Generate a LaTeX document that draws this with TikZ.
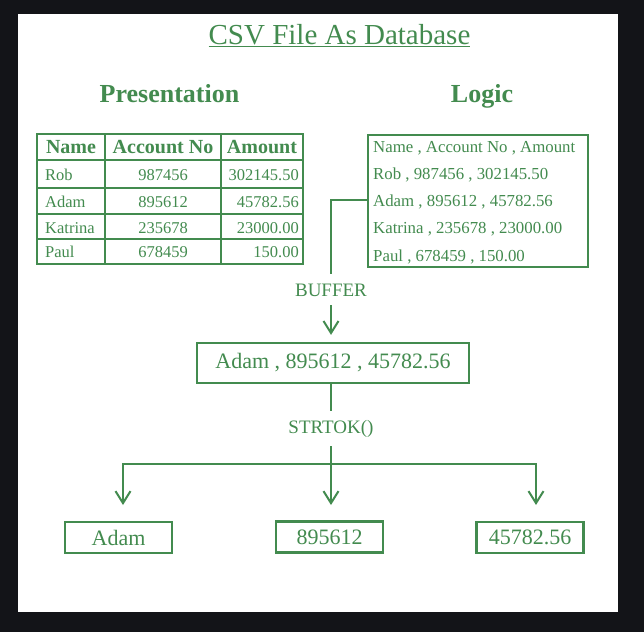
\documentclass[tikz,border=0pt]{standalone}
\usepackage{fontspec}
\setmainfont{Liberation Serif}
\usetikzlibrary{arrows.meta,positioning}
\definecolor{csvgreen}{RGB}{67,139,79}
\definecolor{darkbg}{RGB}{19,20,24}
\newcommand\fsz[1]{\fontsize{#1}{#1}\selectfont}

\begin{document}
\begin{tikzpicture}[x=1pt,y=-1pt,
  every node/.style={text=csvgreen,inner sep=0pt},
  frame/.style={draw=csvgreen,line width=2.2pt},
  grid/.style={draw=csvgreen,line width=2.5pt},
  wire/.style={draw=csvgreen,line width=2pt},
  flow/.style={wire,-{Straight Barb[length=12pt,width=15pt]}},
  lbl/.style={font=\fsz{19},inner ysep=9pt,anchor=base},
  leaf/.style={frame,font=\fsz{22},minimum width=107pt,minimum height=31pt}]

\fill[darkbg] (0,0) rectangle (644,632);
\fill[white] (18,14) rectangle (618,612);

\node[anchor=base,font=\fsz{29}] (title) at (339.5,44) {\underline{CSV File As Database}};
\node[anchor=base,font=\fsz{26}\bfseries] (pres) at (169.5,102) {Presentation};
\node[anchor=base,font=\fsz{26}\bfseries] (logic) at (482,102) {Logic};

\draw[grid] (37,134) rectangle (303,264);
\foreach \x in {105,221} \draw[grid] (\x,134) -- (\x,264);
\foreach \y in {160,188,214,239} \draw[grid] (37,\y) -- (303,\y);

\node[anchor=base,font=\fsz{20}\bfseries] (hname) at (71,153) {Name};
\node[anchor=base,font=\fsz{20}\bfseries] (hacc) at (163,153) {Account No};
\node[anchor=base,font=\fsz{20}\bfseries] (hamt) at (262,153) {Amount};

\foreach \nm/\acc/\amt/\y [count=\i] in {Rob/987456/302145.50/180,Adam/895612/45782.56/207,Katrina/235678/23000.00/233,Paul/678459/150.00/257}{
  \node[anchor=base west,font=\fsz{16.5}] (nm\i) at (45,\y) {\nm};
  \node[anchor=base,font=\fsz{16.5}] (acc\i) at (163,\y) {\acc};
  \node[anchor=base east,font=\fsz{16.5}] (amt\i) at (299,\y) {\amt};
}

\node[frame,anchor=north west,minimum width=220pt,minimum height=132pt] (logicbox) at (367,134) {};
\foreach \t [count=\i] in {{Name , Account No , Amount},{Rob , 987456 , 302145.50},{Adam , 895612 , 45782.56},{Katrina , 235678 , 23000.00},{Paul , 678459 , 150.00}}
  \node[anchor=base west,font=\fsz{16.8}] (line\i) at (373,152+27.3*\i-27.3) {\t};

\coordinate (tap) at (logicbox.west |- 0,200);
\node[lbl] (buffer) at (331,296) {BUFFER};
\draw[wire] (tap) -| (buffer.north);

\node[frame,font=\fsz{22},minimum width=272pt,minimum height=40pt] (record) at (333,363) {Adam , 895612 , 45782.56};
\draw[flow,shorten >=7pt] (buffer.south) -- (buffer.south |- record.north);

\node[lbl] (strtok) at (331,433) {STRTOK()};
\draw[wire] (record.south -| strtok) -- (strtok.north);

\coordinate (split) at (331,464);
\coordinate (tipA) at (123,505);
\coordinate (tipB) at (331,505);
\coordinate (tipC) at (536,505);
\draw[wire] (strtok.south) -- (split);
\draw[flow] (split) -| (tipA);
\draw[flow] (split) -- (tipB);
\draw[flow] (split) -| (tipC);

\node[leaf] (name) at (118.5,537.5) {Adam};
\node[leaf] (acct) at (329.5,537) {895612};
\node[leaf] (amount) at (530,537.5) {45782.56};

\end{tikzpicture}
\end{document}
